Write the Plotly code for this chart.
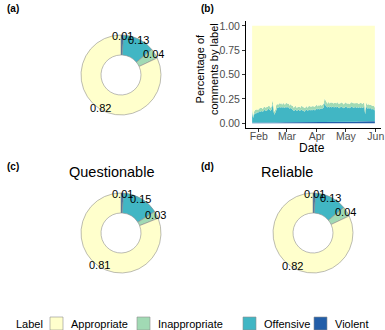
import math
import pandas as pd
import plotly.graph_objects as go

W, H = 385, 330

labels = ["Violent", "Offensive", "Inappropriate", "Appropriate"]
legend_order = ["Appropriate", "Inappropriate", "Offensive", "Violent"]
colors = {"Appropriate": "#FFFFCC", "Inappropriate": "#A1DAB4",
          "Offensive": "#41B6C4", "Violent": "#225EA8"}

# donut shares (order = clockwise from 12 o'clock)
share_all = [0.01, 0.13, 0.04, 0.82]
share_questionable = [0.01, 0.15, 0.03, 0.81]
share_reliable = [0.01, 0.13, 0.04, 0.82]

# daily shares, 2020-01-25 .. 2020-05-31
offensive = [
    0.11, 0.05, 0.08, 0.10, 0.09, 0.11, 0.10, 0.11, 0.12, 0.11,
    0.12, 0.11, 0.12, 0.13, 0.12, 0.12, 0.13, 0.14, 0.13, 0.12,
    0.13, 0.19, 0.12, 0.08, 0.10, 0.14, 0.15, 0.15, 0.16, 0.15,
    0.16, 0.15, 0.16, 0.15, 0.15, 0.16, 0.15, 0.16, 0.15, 0.14,
    0.15, 0.14, 0.13, 0.12, 0.12, 0.13, 0.12, 0.12, 0.13, 0.12,
    0.12, 0.13, 0.12, 0.12, 0.11, 0.12, 0.13, 0.12, 0.12, 0.13,
    0.12, 0.13, 0.12, 0.13, 0.13, 0.12, 0.13, 0.14, 0.13, 0.14,
    0.13, 0.14, 0.14, 0.14, 0.15, 0.20, 0.17, 0.16, 0.15, 0.16,
    0.15, 0.16, 0.15, 0.16, 0.15, 0.15, 0.16, 0.15, 0.16, 0.15,
    0.14, 0.15, 0.16, 0.15, 0.15, 0.14, 0.15, 0.16, 0.15, 0.14,
    0.15, 0.14, 0.15, 0.16, 0.15, 0.14, 0.15, 0.15, 0.14, 0.15,
    0.14, 0.15, 0.14, 0.15, 0.14, 0.15, 0.14, 0.08, 0.16, 0.13,
    0.14, 0.13, 0.14, 0.13, 0.12, 0.13, 0.12, 0.11,
]
inappropriate = [
    0.03, 0.02, 0.03, 0.03, 0.04, 0.03, 0.03, 0.03, 0.03, 0.04,
    0.03, 0.03, 0.04, 0.03, 0.03, 0.04, 0.03, 0.03, 0.04, 0.03,
    0.03, 0.04, 0.03, 0.03, 0.03, 0.04, 0.04, 0.03, 0.04, 0.04,
    0.04, 0.03, 0.04, 0.04, 0.03, 0.04, 0.04, 0.03, 0.04, 0.03,
    0.04, 0.03, 0.04, 0.03, 0.04, 0.04, 0.03, 0.04, 0.03, 0.04,
    0.03, 0.04, 0.04, 0.03, 0.04, 0.03, 0.04, 0.03, 0.04, 0.04,
    0.04, 0.03, 0.04, 0.04, 0.03, 0.04, 0.04, 0.04, 0.03, 0.04,
    0.04, 0.04, 0.03, 0.04, 0.04, 0.04, 0.05, 0.04, 0.04, 0.05,
    0.04, 0.04, 0.05, 0.04, 0.04, 0.05, 0.04, 0.04, 0.05, 0.04,
    0.05, 0.04, 0.04, 0.05, 0.04, 0.04, 0.05, 0.04, 0.04, 0.05,
    0.04, 0.04, 0.05, 0.04, 0.04, 0.05, 0.04, 0.04, 0.05, 0.04,
    0.04, 0.04, 0.05, 0.04, 0.04, 0.04, 0.05, 0.04, 0.04, 0.04,
    0.04, 0.04, 0.03, 0.04, 0.04, 0.03, 0.04, 0.03,
]
violent = [
    0.005, 0.004, 0.006, 0.005, 0.006, 0.005, 0.006, 0.007, 0.006, 0.006,
    0.007, 0.006, 0.007, 0.008, 0.007, 0.006, 0.007, 0.008, 0.007, 0.007,
    0.008, 0.009, 0.007, 0.006, 0.007, 0.008, 0.008, 0.009, 0.008, 0.008,
    0.009, 0.008, 0.009, 0.008, 0.009, 0.010, 0.009, 0.009, 0.010, 0.009,
    0.009, 0.008, 0.009, 0.008, 0.009, 0.009, 0.008, 0.009, 0.009, 0.008,
    0.009, 0.010, 0.009, 0.009, 0.008, 0.009, 0.010, 0.009, 0.009, 0.010,
    0.010, 0.009, 0.010, 0.010, 0.009, 0.010, 0.010, 0.011, 0.010, 0.010,
    0.010, 0.011, 0.010, 0.011, 0.011, 0.012, 0.011, 0.011, 0.010, 0.011,
    0.011, 0.012, 0.011, 0.011, 0.012, 0.011, 0.012, 0.012, 0.011, 0.012,
    0.012, 0.011, 0.012, 0.013, 0.012, 0.012, 0.013, 0.012, 0.013, 0.013,
    0.013, 0.014, 0.013, 0.014, 0.014, 0.015, 0.014, 0.015, 0.015, 0.016,
    0.016, 0.015, 0.016, 0.017, 0.016, 0.017, 0.018, 0.012, 0.018, 0.017,
    0.018, 0.019, 0.018, 0.019, 0.020, 0.019, 0.020, 0.019,
]
dates = pd.date_range("2020-01-25", periods=len(offensive), freq="D")
appropriate = [1 - a - b - c for a, b, c in zip(offensive, inappropriate, violent)]

font = "Liberation Sans, Arial, sans-serif"
outline = "#8f8f8f"
fig = go.Figure()


def px_x(v):
    return v / W


def px_y(v):
    return 1 - v / H


def note(x, y, text, size, **kw):
    d = dict(x=px_x(x), y=px_y(y), xref="paper", yref="paper", text=text,
             showarrow=False, xanchor="center", yanchor="middle",
             font=dict(size=size, color="black", family=font))
    d.update(kw)
    return d


# donuts: (values, centre x, centre y) in pixels
R = 39      # radius used for the labels
RD = 40     # half-size of the pie domain
donuts = [(share_all, 121, 75), (share_questionable, 121, 233), (share_reliable, 313, 233)]
annotations = []
for vals, cx, cy in donuts:
    fig.add_trace(go.Pie(
        labels=labels, values=vals, sort=False, direction="clockwise", rotation=0,
        hole=0.5, textinfo="none", hoverinfo="label+value", showlegend=False,
        marker=dict(colors=[colors[l] for l in labels], line=dict(color=outline, width=0.6)),
        domain=dict(x=[px_x(cx - RD), px_x(cx + RD)], y=[px_y(cy + RD), px_y(cy - RD)]),
    ))
    cum = 0
    total = sum(vals)
    for v in vals:
        ang = 2 * math.pi * (cum + v / 2) / total
        cum += v
        annotations.append(note(cx + R * math.sin(ang), cy - R * math.cos(ang), f"{v:.2f}", 11))

# stacked area
series = [("Violent", violent), ("Offensive", offensive),
          ("Inappropriate", inappropriate), ("Appropriate", appropriate)]
for name, vals in series:
    fig.add_trace(go.Scatter(
        x=dates, y=vals, name=name, stackgroup="one", mode="lines",
        line=dict(width=0, color=colors[name]), fillcolor=colors[name],
        showlegend=False, xaxis="x", yaxis="y"))

pad = (dates[-1] - dates[0]) * 0.05
fig.update_layout(
    width=W, height=H, margin=dict(l=0, r=0, t=0, b=0, autoexpand=False),
    paper_bgcolor="white", plot_bgcolor="white", showlegend=False,
    font=dict(family=font, size=11, color="black"),
    xaxis=dict(domain=[px_x(246), px_x(381)], range=[dates[0] - pad, dates[-1] + pad],
               tick0="2020-02-01", dtick="M1", tickformat="%b",
               showline=True, linecolor="black", linewidth=1, showgrid=False, zeroline=False,
               ticks="outside", ticklen=3, tickcolor="#333333", ticklabelstandoff=-5,
               tickfont=dict(size=10.5, color="#4d4d4d")),
    yaxis=dict(domain=[px_y(128), px_y(21)], range=[-0.05, 1.05],
               tickvals=[0, 0.25, 0.5, 0.75, 1.0], tickformat=".2f",
               showline=True, linecolor="black", linewidth=1, showgrid=False, zeroline=False,
               ticks="outside", ticklen=3, tickcolor="#333333",
               tickfont=dict(size=10.5, color="#4d4d4d")),
)

# axis titles, panel tags and titles
annotations += [
    note(207, 69, "Percentage of<br>comments by label", 11, textangle=-90),
    note(312, 148, "Date", 12),
    note(5, 9, "<b>(a)</b>", 10, xanchor="left"),
    note(199, 9, "<b>(b)</b>", 10, xanchor="left"),
    note(5, 166, "<b>(c)</b>", 10, xanchor="left"),
    note(199, 166, "<b>(d)</b>", 10, xanchor="left"),
    note(111, 172, "Questionable", 14.5),
    note(287, 172, "Reliable", 14.5),
]

# legend drawn at the bottom
shapes = []
annotations.append(note(14, 324, "Label", 11, xanchor="left"))
key_x = [50, 137, 243, 314]
for name, kx in zip(legend_order, key_x):
    shapes.append(dict(type="rect", xref="paper", yref="paper",
                       x0=px_x(kx), x1=px_x(kx + 13), y0=px_y(330), y1=px_y(317),
                       fillcolor=colors[name], line=dict(color=outline, width=0.6)))
    annotations.append(note(kx + 19, 324, name, 11, xanchor="left"))

fig.update_layout(annotations=annotations, shapes=shapes)

fig.write_html("out.html", config={"displayModeBar": False},
               post_script="document.body.style.margin='0';")
